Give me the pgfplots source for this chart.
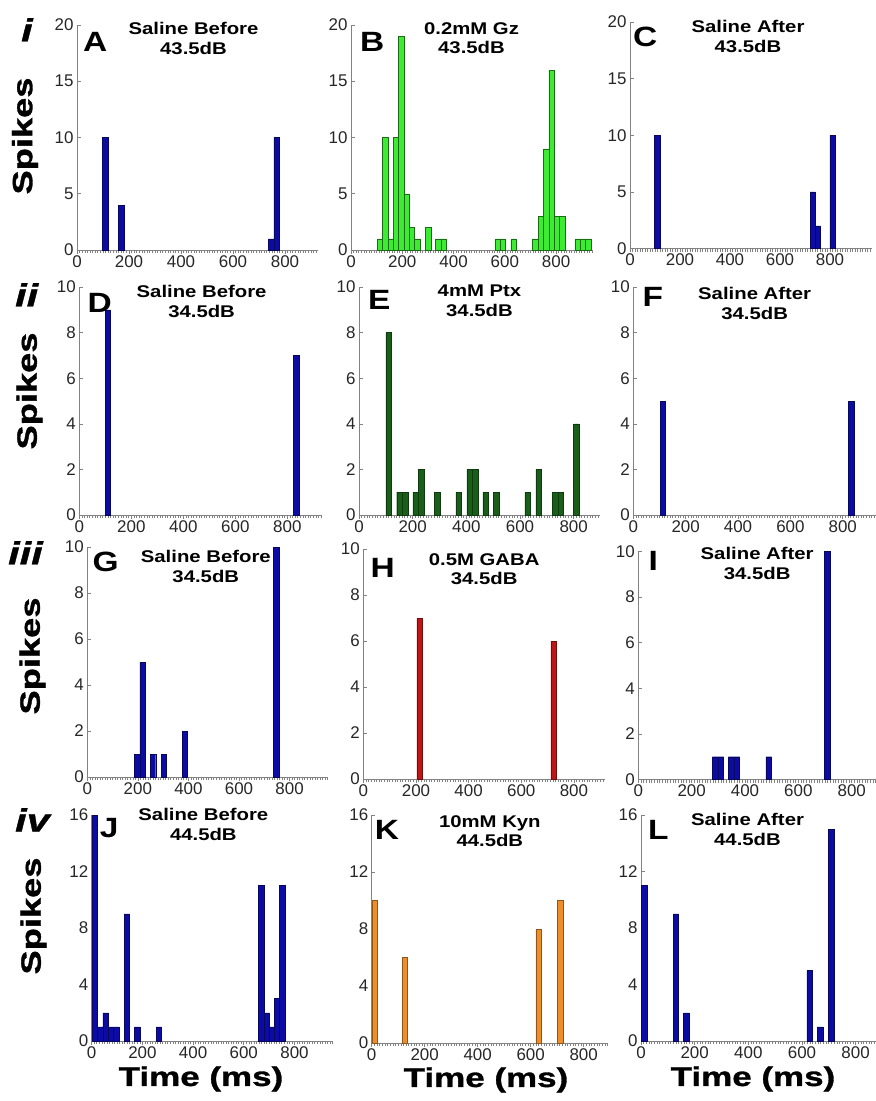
\documentclass[border=0pt]{standalone}
\usepackage{fontspec}
\setmainfont{Liberation Sans}
\newfontfamily\tfont[FakeStretch=1.2]{Liberation Sans}
\newfontfamily\bfont[FakeStretch=1.3, FakeBold=1.2]{Liberation Sans}
\usepackage{pgfplots}
\pgfplotsset{compat=1.18}
\definecolor{mblue}{RGB}{12,12,165}
\definecolor{mgreen}{RGB}{60,235,50}
\definecolor{dgreen}{RGB}{25,95,25}
\definecolor{mred}{RGB}{190,22,22}
\definecolor{morange}{RGB}{238,142,42}
\definecolor{axgray}{RGB}{130,130,130}
\pgfplotsset{
  panel/.style={
    scale only axis, anchor=south west, clip=false,
    axis lines=left, axis line style={-, axgray, line width=0.8bp},
    xmin=0, ymin=0,
    xtick={0,200,400,600,800},
    minor xtick={0,10,...,970},
    tick align=inside,
    major tick length=3.5bp, minor tick length=3bp,
    tick style={axgray, line width=0.6bp},
    tick label style={font=\fontsize{17}{17}\selectfont, text=black!85},
    xticklabel style={yshift=1.5bp},
    /pgf/number format/assume math mode=true,
    ybar, bar width=21, bar shift=0pt,
  },
  bluebar/.style={fill=mblue, draw=mblue!55!black, line width=0.4bp},
  greenbar/.style={fill=mgreen, draw=mgreen!45!black, line width=0.5bp},
  dgreenbar/.style={fill=dgreen, draw=dgreen!60!black, line width=0.4bp},
  redbar/.style={fill=mred, draw=mred!60!black, line width=0.4bp},
  orangebar/.style={fill=morange, draw=morange!60!black, line width=0.5bp},
}
\newcommand\ptitle[4]{\node[anchor=north, inner sep=0pt, align=center, font=\tfont\bfseries\fontsize{17}{20}\selectfont, xshift=#3, yshift=#4] at (rel axis cs:0.5,1) {#1\\#2};}
\newcommand\plabel[3]{\node[anchor=north west, inner sep=0pt, font=\tfont\bfseries\fontsize{28}{28}\selectfont, xshift=#2, yshift=#3] at (rel axis cs:0,1) {#1};}
\begin{document}
\begin{tikzpicture}
\useasboundingbox (0bp,0bp) rectangle (876bp,-1101bp);
% ---------------- Row i ----------------
\begin{axis}[panel, at={(77bp,-250bp)}, width=241bp, height=225bp, xmax=927, ymax=20, ytick={0,5,10,15,20}]
\addplot[bluebar] coordinates {(108,10) (170,4) (747,1) (768,10)};
\ptitle{Saline Before}{43.5dB}{-4bp}{3bp}
\plabel{A}{6bp}{-7bp}
\end{axis}
\begin{axis}[panel, at={(351bp,-250bp)}, width=241bp, height=225bp, xmax=940, ymax=20, ytick={0,5,10,15,20}]
\addplot[greenbar] coordinates {(112,1) (133,10) (154,1) (175,10) (196,19) (217,5) (238,2) (259,1) (301,2) (340,1) (361,1) (572,1) (593,1) (634,1) (718,1) (740,3) (761,9) (782,16) (803,3) (824,3) (884,1) (905,1) (926,1)};
\ptitle{0.2mM Gz}{43.5dB}{0bp}{3bp}
\plabel{B}{9bp}{-7bp}
\end{axis}
\begin{axis}[panel, at={(630bp,-248.5bp)}, width=242bp, height=226.5bp, xmax=968, ymax=20, ytick={0,5,10,15,20}]
\addplot[bluebar] coordinates {(109,10) (731,5) (752,2) (810,10)};
\ptitle{Saline After}{43.5dB}{-3bp}{2bp}
\plabel{C}{3bp}{-5bp}
\end{axis}
% ---------------- Row ii ----------------
\begin{axis}[panel, at={(79.3bp,-515bp)}, width=242.6bp, height=228bp, xmax=933, ymax=10, ytick={0,2,4,6,8,10}]
\addplot[bluebar] coordinates {(110,9) (834,7)};
\ptitle{Saline Before}{34.5dB}{1bp}{2bp}
\plabel{D}{8bp}{-6bp}
\end{axis}
\begin{axis}[panel, at={(359bp,-515bp)}, width=241bp, height=228bp, xmax=898, ymax=10, ytick={0,2,4,6,8,10}]
\addplot[dgreenbar] coordinates {(111,8) (151,1) (172,1) (211,1) (232,2) (291,1) (371,1) (412,2) (433,2) (472,1) (511,1) (629,1) (670,2) (730,1) (751,1) (810,4)};
\ptitle{4mM Ptx}{34.5dB}{0bp}{2bp}
\plabel{E}{9bp}{-3bp}
\end{axis}
\begin{axis}[panel, at={(633.3bp,-515bp)}, width=242.7bp, height=228bp, xmax=927, ymax=10, ytick={0,2,4,6,8,10}]
\addplot[bluebar] coordinates {(113,5) (832,5)};
\ptitle{Saline After}{34.5dB}{0bp}{0bp}
\plabel{F}{9bp}{0bp}
\end{axis}
% ---------------- Row iii ----------------
\begin{axis}[panel, at={(87.3bp,-777bp)}, width=241bp, height=230bp, xmax=953, ymax=10, ytick={0,2,4,6,8,10}]
\addplot[bluebar] coordinates {(197,1) (218,5) (260,1) (302,1) (386,2) (747,10)};
\ptitle{Saline Before}{34.5dB}{-2bp}{-3bp}
\plabel{G}{5bp}{-5bp}
\end{axis}
\begin{axis}[panel, at={(363.3bp,-779bp)}, width=241.7bp, height=230bp, xmax=918, ymax=10, ytick={0,2,4,6,8,10}]
\addplot[redbar] coordinates {(214,7) (723,6)};
\ptitle{0.5M GABA}{34.5dB}{0bp}{-4bp}
\plabel{H}{7bp}{-9bp}
\end{axis}
\begin{axis}[panel, at={(638.3bp,-779.5bp)}, width=237.7bp, height=228bp, xmax=891, ymax=10, ytick={0,2,4,6,8,10}]
\addplot[bluebar] coordinates {(288,1) (309,1) (348,1) (369,1) (489,1) (709,10)};
\ptitle{Saline After}{34.5dB}{0bp}{4bp}
\plabel{I}{10bp}{0bp}
\end{axis}
% ---------------- Row iv ----------------
\begin{axis}[panel, at={(91.7bp,-1041bp)}, width=241.3bp, height=226bp, xmax=952, ymax=16, ytick={0,4,8,12,16}]
\addplot[bluebar] coordinates {(13,16) (34,1) (55,2) (76,1) (97,1) (138,9) (180,1) (265,1) (669,11) (690,2) (711,1) (731,3) (752,11)};
\ptitle{Saline Before}{44.5dB}{-9bp}{7bp}
\plabel{J}{8bp}{-3bp}
\end{axis}
\begin{axis}[panel, at={(371.7bp,-1043bp)}, width=236.3bp, height=228bp, xmax=892, ymax=16, ytick={0,4,8,12,16}]
\addplot[orangebar] coordinates {(11,10) (125,6) (630,8) (712,10)};
\ptitle{10mM Kyn}{44.5dB}{0bp}{0bp}
\plabel{K}{3bp}{-5bp}
\end{axis}
\begin{axis}[panel, at={(641bp,-1041bp)}, width=235bp, height=226bp, xmax=876, ymax=16, ytick={0,4,8,12,16}]
\addplot[bluebar] coordinates {(11,11) (130,9) (169,2) (629,5) (668,1) (709,15)};
\ptitle{Saline After}{44.5dB}{-11bp}{2bp}
\plabel{L}{7bp}{-5bp}
\end{axis}
% ---------------- outer labels ----------------
\node[rotate=90, inner sep=0pt, font=\bfont\bfseries\fontsize{28}{28}\selectfont] at (25bp,-136bp) {Spikes};
\node[rotate=90, inner sep=0pt, font=\bfont\bfseries\fontsize{28}{28}\selectfont] at (29.5bp,-391bp) {Spikes};
\node[rotate=90, inner sep=0pt, font=\bfont\bfseries\fontsize{28}{28}\selectfont] at (32.5bp,-656bp) {Spikes};
\node[rotate=90, inner sep=0pt, font=\bfont\bfseries\fontsize{28}{28}\selectfont] at (33.5bp,-916bp) {Spikes};
\node[inner sep=0pt, font=\bfont\bfseries\fontsize{27}{27}\selectfont] at (201bp,-1079bp) {Time (ms)};
\node[inner sep=0pt, font=\bfont\bfseries\fontsize{27}{27}\selectfont] at (486bp,-1080bp) {Time (ms)};
\node[inner sep=0pt, font=\bfont\bfseries\fontsize{27}{27}\selectfont] at (753bp,-1079bp) {Time (ms)};
\node[anchor=north west, inner sep=0pt, font=\bfont\bfseries\itshape\fontsize{32}{32}\selectfont] at (21bp,-18bp) {i};
\node[anchor=north west, inner sep=0pt, font=\bfont\bfseries\itshape\fontsize{32}{32}\selectfont] at (15bp,-283bp) {ii};
\node[anchor=north west, inner sep=0pt, font=\bfont\bfseries\itshape\fontsize{32}{32}\selectfont] at (8bp,-541bp) {iii};
\node[anchor=north west, inner sep=0pt, font=\bfont\bfseries\itshape\fontsize{32}{32}\selectfont] at (15bp,-808bp) {iv};
\end{tikzpicture}
\end{document}
